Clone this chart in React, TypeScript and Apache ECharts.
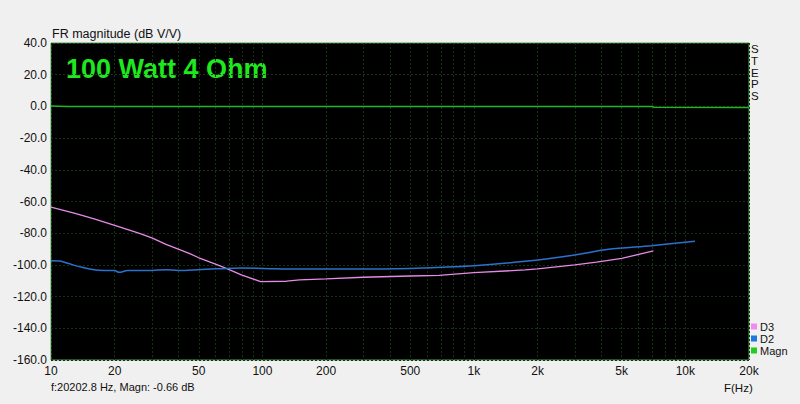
import React, { useEffect, useRef } from "react";
import * as echarts from "echarts";

const xLabelTicks = [10, 20, 50, 100, 200, 500, 1000, 2000, 5000, 10000, 20000];
const xGridTicks = [
  10, 20, 30, 40, 50, 60, 70, 80, 90,
  100, 200, 300, 400, 500, 600, 700, 800, 900,
  1000, 2000, 3000, 4000, 5000, 6000, 7000, 8000, 9000,
  10000, 20000,
];

const d3Freq = [10, 13, 16, 20, 26, 30, 35, 40, 45, 50, 60, 67, 80, 98, 130, 150, 200, 300, 500, 684, 1000, 1750, 2000, 3000, 3800, 5000, 7060];
const d3Vals = [-63.5, -67.5, -71, -75, -80, -83, -87, -90, -92.7, -95.5, -99.5, -102, -106.5, -110.5, -110.3, -109.5, -108.8, -107.8, -107, -106.6, -104.9, -103.2, -102.5, -100, -98.2, -95.9, -91.2];

const d2Freq = [10, 11, 12, 14, 16, 18, 20, 21, 23, 30, 35, 40, 50, 60, 80, 100, 150, 300, 500, 700, 1000, 1750, 3000, 4330, 6900, 11100];
const d2Vals = [-97.4, -97.6, -99, -101.5, -103, -103.5, -103.6, -104.7, -103.6, -103.5, -103, -103.5, -103, -102.5, -102, -102.2, -102.6, -102.6, -102.2, -101.5, -100.5, -97.7, -93.7, -90.2, -87.9, -85.1];

const magFreq = [10, 12, 100, 1000, 7000, 7100, 20000];
const magVals = [0.2, 0, 0, 0, -0.05, -0.6, -0.66];

const seriesNames = ["D3", "D2", "Magn"];
const stepsLetters = ["S", "T", "E", "P", "S"];

const zip = (xs: number[], ys: number[]) => xs.map((x, i) => [x, ys[i]]);

const FONT = "'Liberation Sans', Arial, sans-serif";

export default function App() {
  const ref = useRef<HTMLDivElement>(null);
  useEffect(() => {
    if (!ref.current) return;
    const chart = echarts.init(ref.current, null, { renderer: "svg" });
    const fmtX = (v: number) => (v >= 1000 ? `${Math.round(v / 1000)}k` : `${Math.round(v)}`);
    const gridLine = { show: true, lineStyle: { color: "#123212", type: [2, 2], width: 1 } };
    chart.setOption({
      animation: false,
      backgroundColor: "#f0f0f0",
      textStyle: { fontFamily: FONT },
      grid: {
        left: 51,
        top: 43,
        right: 51,
        bottom: 44,
        show: true,
        backgroundColor: "#000000",
        borderColor: "#4f9f4f",
        borderWidth: 1,
      },
      xAxis: {
        type: "log",
        logBase: 10,
        min: 10,
        max: 20000,
        axisLine: { show: false },
        axisTick: { show: false, customValues: xGridTicks },
        axisLabel: {
          customValues: xLabelTicks,
          formatter: (v: number) => fmtX(v),
          color: "#111",
          fontSize: 12,
          fontFamily: FONT,
          margin: 5,
        },
        splitLine: gridLine,
      },
      yAxis: {
        type: "value",
        min: -160,
        max: 40,
        interval: 20,
        axisLine: { show: false },
        axisTick: { show: false },
        axisLabel: {
          formatter: (v: number) => v.toFixed(1),
          color: "#111",
          fontSize: 12,
          fontFamily: FONT,
          margin: 4,
        },
        splitLine: gridLine,
      },
      legend: {
        orient: "vertical",
        left: 751,
        top: 321,
        itemWidth: 6,
        itemHeight: 6,
        itemGap: 1,
        icon: "rect",
        data: seriesNames,
        textStyle: { fontSize: 11, color: "#111", fontFamily: FONT, padding: [0, 0, 0, -2] },
        padding: 0,
      },
      graphic: [
        {
          type: "text",
          left: 52,
          top: 27,
          style: { text: "FR magnitude (dB V/V)", fontSize: 12.5, fill: "#111", fontFamily: FONT },
        },
        {
          type: "text",
          left: 66,
          top: 55,
          style: { text: "100 Watt 4 Ohm", fontSize: 27, fontWeight: "bold", fill: "#1ee81e", fontFamily: FONT },
        },
        ...stepsLetters.map((ch, i) => ({
          type: "text",
          left: 751,
          top: 43 + i * 11.75,
          style: { text: ch, fontSize: 11.5, fill: "#111", fontFamily: FONT },
        })),
        {
          type: "text",
          left: 51,
          top: 381,
          style: { text: "f:20202.8 Hz, Magn: -0.66 dB", fontSize: 11, fill: "#111", fontFamily: FONT },
        },
        {
          type: "text",
          left: 724,
          top: 382,
          style: { text: "F(Hz)", fontSize: 11.5, fill: "#111", fontFamily: FONT },
        },
      ],
      series: [
        {
          name: "D3",
          type: "line",
          data: zip(d3Freq, d3Vals),
          showSymbol: false,
          lineStyle: { color: "#e58ae5", width: 1.3 },
          itemStyle: { color: "#f08cf0" },
        },
        {
          name: "D2",
          type: "line",
          data: zip(d2Freq, d2Vals),
          showSymbol: false,
          smooth: 0.3,
          lineStyle: { color: "#2a72cc", width: 1.5 },
          itemStyle: { color: "#1f78e0" },
        },
        {
          name: "Magn",
          type: "line",
          data: zip(magFreq, magVals),
          showSymbol: false,
          lineStyle: { color: "#22b822", width: 1.5 },
          itemStyle: { color: "#22cc22" },
        },
      ],
    });
    return () => chart.dispose();
  }, []);
  return <div ref={ref} style={{ width: 800, height: 404, position: "absolute", left: 0, top: 0 }} />;
}
